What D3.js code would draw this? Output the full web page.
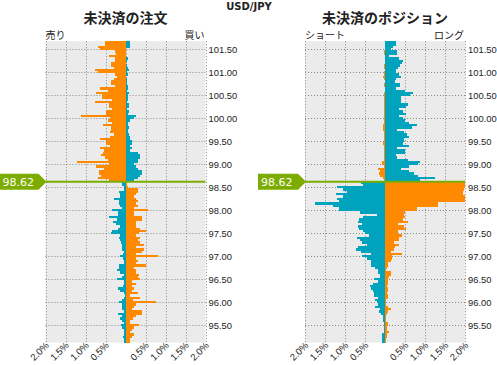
<!DOCTYPE html>
<html>
<head>
<meta charset="utf-8">
<script src="https://d3js.org/d3.v7.min.js"></script>
<style>
  body { margin: 0; background: #fff; }
  svg text { font-family: "DejaVu Sans", "Noto Sans CJK JP", sans-serif; fill: #222; }
  .jp { font-family: "Noto Sans CJK JP", sans-serif; }
  .num { font-family: "Liberation Sans", Arial, sans-serif; }
</style>
</head>
<body>
<div id="chart"></div>
<script>
// price levels, top to bottom (0.05 yen steps)
var priceLevels = [
  101.65,101.60,101.55,101.50,101.45,101.40,101.35,101.30,101.25,101.20,
  101.15,101.10,101.05,101.00,100.95,100.90,100.85,100.80,100.75,100.70,
  100.65,100.60,100.55,100.50,100.45,100.40,100.35,100.30,100.25,100.20,
  100.15,100.10,100.05,100.00,99.95,99.90,99.85,99.80,99.75,99.70,
  99.65,99.60,99.55,99.50,99.45,99.40,99.35,99.30,99.25,99.20,
  99.15,99.10,99.05,99.00,98.95,98.90,98.85,98.80,98.75,98.70,
  98.65,
  98.60,98.55,98.50,98.45,98.40,98.35,98.30,98.25,98.20,98.15,
  98.10,98.05,98.00,97.95,97.90,97.85,97.80,97.75,97.70,97.65,
  97.60,97.55,97.50,97.45,97.40,97.35,97.30,97.25,97.20,97.15,
  97.10,97.05,97.00,96.95,96.90,96.85,96.80,96.75,96.70,96.65,
  96.60,96.55,96.50,96.45,96.40,96.35,96.30,96.25,96.20,96.15,
  96.10,96.05,96.00,95.95,95.90,95.85,95.80,95.75,95.70,95.65,
  95.60,95.55,95.50,95.45,95.40,95.35,95.30,95.25,95.20,95.15
];

// open orders (%), sell side (left) and buy side (right)
var orderSell = [
  0.52,0.52,0.70,0.65,0.27,0.25,0.42,0.27,0.27,0.37,
  0.37,0.30,0.77,0.70,0.27,0.22,0.30,0.37,0.37,0.27,
  0.65,0.45,0.75,0.60,0.60,0.35,0.77,0.42,0.42,0.35,
  0.50,0.50,1.12,0.40,0.45,0.35,0.57,0.37,0.37,0.40,
  0.30,0.40,0.65,0.50,0.50,0.40,0.65,0.55,0.57,0.62,
  0.52,0.45,1.22,0.42,0.75,0.55,0.67,0.67,0.62,0.70,
  0.42,
  0.10,0.08,0.03,0.05,0.17,0.15,0.15,0.30,0.17,0.17,
  0.15,0.08,0.35,0.18,0.18,0.42,0.22,0.32,0.25,0.13,
  0.20,0.35,0.37,0.15,0.17,0.15,0.12,0.10,0.10,0.10,
  0.05,0.07,0.15,0.07,0.05,0.05,0.17,0.17,0.22,0.15,
  0.05,0.10,0.22,0.05,0.05,0.07,0.20,0.15,0.05,0.02,
  0.05,0.08,0.17,0.10,0.10,0.10,0.05,0.20,0.10,0.15,
  0.08,0.05,0.12,0.08,0.05,0.05,0.05,0.07,0.05,0.05
];
var orderBuy = [
  0.12,0.10,0.12,0.02,0.02,0.02,0.02,0.05,0.04,0.02,
  0.03,0.05,0.08,0.03,0.05,0.02,0.03,0.03,0.03,0.05,
  0.05,0.03,0.08,0.05,0.05,0.05,0.03,0.08,0.08,0.03,
  0.08,0.05,0.25,0.22,0.10,0.05,0.05,0.08,0.07,0.05,
  0.08,0.12,0.12,0.15,0.15,0.12,0.17,0.10,0.32,0.35,
  0.35,0.30,0.32,0.22,0.25,0.30,0.42,0.40,0.35,0.30,
  0.22,
  0.03,0.03,0.05,0.32,0.32,0.27,0.22,0.25,0.30,0.25,
  0.32,0.20,0.55,0.22,0.20,0.40,0.40,0.27,0.25,0.25,
  0.35,0.52,0.33,0.25,0.35,0.30,0.35,0.45,0.25,0.47,
  0.42,0.25,0.80,0.27,0.32,0.25,0.50,0.20,0.27,0.25,
  0.33,0.30,0.37,0.15,0.27,0.15,0.20,0.15,0.30,0.10,
  0.35,0.18,0.77,0.25,0.20,0.15,0.40,0.42,0.25,0.18,
  0.12,0.12,0.33,0.22,0.15,0.10,0.20,0.15,0.12,0.10
];

// open positions (%), short side (left) and long side (right)
var posShort = [
  0,0,0,0,0.03,0.03,0.01,0,0,0.01,
  0.03,0.03,0.01,0.02,0.03,0.05,0.03,0.01,0.03,0.03,
  0.01,0.01,0.03,0.03,0.03,0.02,0.02,0.02,0.03,0.03,
  0.03,0.02,0.03,0.02,0.03,0.03,0.05,0.05,0.05,0.03,
  0.02,0.03,0.03,0.03,0.05,0.03,0.02,0.03,0.03,0.02,
  0.02,0.03,0.07,0.07,0.03,0.17,0.12,0.15,0.12,0.05,
  0.03,
  0.60,0.55,1.20,1.05,0.95,1.22,1.05,1.20,1.15,1.75,
  1.30,1.15,1.15,0.62,0.20,0.55,0.65,0.67,0.57,0.67,
  0.65,0.55,0.50,0.40,0.70,0.62,0.57,0.45,0.67,0.72,
  0.60,0.35,0.57,0.45,0.35,0.35,0.35,0.25,0.17,0.17,
  0.12,0.12,0.27,0.17,0.30,0.37,0.35,0.30,0.27,0.27,
  0.17,0.25,0.20,0.17,0.25,0.12,0.15,0.10,0.05,0.05,
  0.05,0.03,0.03,0.03,0.03,0.03,0.08,0.08,0.08,0.08
];
var posLong = [
  0.27,0.27,0.20,0.15,0.30,0.30,0.10,0.35,0.45,0.42,
  0.37,0.32,0.27,0.27,0.35,0.40,0.27,0.25,0.37,0.37,
  0.27,0.50,0.70,0.62,0.40,0.40,0.40,0.57,0.52,0.35,
  0.45,0.52,0.35,0.45,0.50,0.60,0.80,0.67,0.30,0.47,
  0.55,0.60,0.47,0.47,0.45,0.60,0.30,0.50,0.50,0.27,
  0.30,0.57,0.87,0.82,0.60,0.40,0.60,0.72,0.82,1.25,
  0.87,
  2.00,2.00,2.00,1.97,1.95,1.95,2.00,2.00,2.00,1.32,
  1.32,0.80,0.80,0.50,0.48,0.50,0.45,0.57,0.32,0.47,
  0.52,0.33,0.32,0.42,0.35,0.35,0.22,0.35,0.25,0.22,
  0.15,0.42,0.18,0.18,0.15,0.08,0.08,0.05,0.03,0.15,
  0.15,0.10,0.08,0.08,0.08,0.05,0.08,0.08,0.05,0.08,
  0.08,0.03,0.03,0.03,0.07,0.15,0.07,0.05,0.03,0.03,
  0.03,0.07,0.07,0.05,0.05,0.10,0.05,0.05,0.03,0.03
];

var currentPrice = 98.62;
var xTicks = [-2, -1.5, -1, -0.5, 0, 0.5, 1, 1.5, 2];
var yTicks = [95.5, 96, 96.5, 97, 97.5, 98, 98.5, 99, 99.5, 100, 100.5, 101, 101.5];

var orange = "#ff8a00", teal = "#00a3bd", green = "#7dac00";

var svg = d3.select("#chart").append("svg")
    .attr("width", 497)
    .attr("height", 365);

var y = d3.scaleLinear().domain([95.125, 101.675]).range([342.5, 41.2]);
var halfStep = 0.025;

svg.append("text")
    .attr("x", 249).attr("y", 10)
    .attr("text-anchor", "middle")
    .style("font-size", "10px").style("font-weight", "bold")
    .attr("fill", "#333")
    .text("USD/JPY");

function drawPanel(cfg) {
    var x = d3.scaleLinear().domain([-2, 2]).range(cfg.range);
    var g = svg.append("g");
    var top = y.range()[1], bottom = y.range()[0];

    g.append("text").attr("class", "jp")
        .attr("x", (cfg.range[0] + cfg.range[1]) / 2).attr("y", 23)
        .attr("text-anchor", "middle")
        .style("font-size", "14px").style("font-weight", "bold")
        .attr("fill", "#333")
        .text(cfg.title);
    g.append("text").attr("class", "jp")
        .attr("x", cfg.range[0]).attr("y", 39)
        .style("font-size", "10px")
        .text(cfg.leftLabel);
    g.append("text").attr("class", "jp")
        .attr("x", cfg.range[1] - 1).attr("y", 39)
        .attr("text-anchor", "end")
        .style("font-size", "10px")
        .text(cfg.rightLabel);

    g.append("rect")
        .attr("x", cfg.range[0]).attr("y", top)
        .attr("width", cfg.range[1] - cfg.range[0])
        .attr("height", bottom - top)
        .attr("fill", "#ebebeb");

    // dotted grid
    g.selectAll(".vgrid").data(xTicks).enter().append("line")
        .attr("x1", function (d) { return Math.round(x(d)) + 0.5; })
        .attr("x2", function (d) { return Math.round(x(d)) + 0.5; })
        .attr("y1", top).attr("y2", bottom)
        .attr("stroke", "#888").attr("stroke-dasharray", "1,2");
    g.selectAll(".hgrid").data(yTicks).enter().append("line")
        .attr("x1", cfg.range[0]).attr("x2", cfg.range[1])
        .attr("y1", function (d) { return Math.round(y(d)) + 0.5; })
        .attr("y2", function (d) { return Math.round(y(d)) + 0.5; })
        .attr("stroke", "#888").attr("stroke-dasharray", "1,2");

    var rows = priceLevels.map(function (p, i) {
        return { price: p, left: cfg.left[i], right: cfg.right[i] };
    });
    function barY(d) { return y(d.price + halfStep); }
    function barH(d) { return y(d.price - halfStep) - y(d.price + halfStep); }

    g.selectAll(".barL").data(rows).enter().append("rect")
        .attr("x", function (d) { return x(-d.left); })
        .attr("y", barY)
        .attr("width", function (d) { return x(0) - x(-d.left); })
        .attr("height", barH)
        .attr("shape-rendering", "crispEdges")
        .attr("fill", function (d) { return d.price > currentPrice ? orange : teal; });
    g.selectAll(".barR").data(rows).enter().append("rect")
        .attr("x", x(0))
        .attr("y", barY)
        .attr("width", function (d) { return x(d.right) - x(0); })
        .attr("height", barH)
        .attr("shape-rendering", "crispEdges")
        .attr("fill", function (d) { return d.price > currentPrice ? teal : orange; });

    // current price line + tag
    var cy = y(currentPrice);
    g.append("line")
        .attr("x1", cfg.range[0]).attr("x2", cfg.range[1])
        .attr("y1", cy).attr("y2", cy)
        .attr("stroke", green).attr("stroke-width", 2);
    var tx = cfg.range[0];
    g.append("path")
        .attr("d", "M" + (tx - cfg.tagWidth) + "," + (cy - 8) +
            "L" + (tx - 7) + "," + (cy - 8) +
            "L" + (tx + 1) + "," + cy +
            "L" + (tx - 7) + "," + (cy + 8) +
            "L" + (tx - cfg.tagWidth) + "," + (cy + 8) + "Z")
        .attr("fill", green);
    g.append("text")
        .attr("x", tx - cfg.tagWidth + 3).attr("y", cy + 4)
        .style("font-size", "11px")
        .style("fill", "#fff")
        .text(currentPrice.toFixed(2));

    // price labels
    g.selectAll(".ylab").data(yTicks).enter().append("text")
        .attr("class", "num")
        .attr("x", cfg.range[1] + 3)
        .attr("y", function (d) { return y(d); })
        .attr("dy", "0.35em")
        .style("font-size", "9.4px")
        .text(function (d) { return d.toFixed(2); });

    // percent labels (rotated)
    g.selectAll(".xlab").data(xTicks.filter(function (d) { return d !== 0; })).enter().append("text")
        .attr("class", "num")
        .attr("transform", function (d) {
            return "translate(" + (x(d) + 4) + ",346) rotate(-45)";
        })
        .attr("text-anchor", "end")
        .style("font-size", "9.5px")
        .text(function (d) { return Math.abs(d).toFixed(1) + "%"; });
}

drawPanel({
    title: "未決済の注文", leftLabel: "売り", rightLabel: "買い",
    range: [45.5, 205.5], left: orderSell, right: orderBuy, tagWidth: 46
});
drawPanel({
    title: "未決済のポジション", leftLabel: "ショート", rightLabel: "ロング",
    range: [305, 465], left: posShort, right: posLong, tagWidth: 47
});
</script>
</body>
</html>
